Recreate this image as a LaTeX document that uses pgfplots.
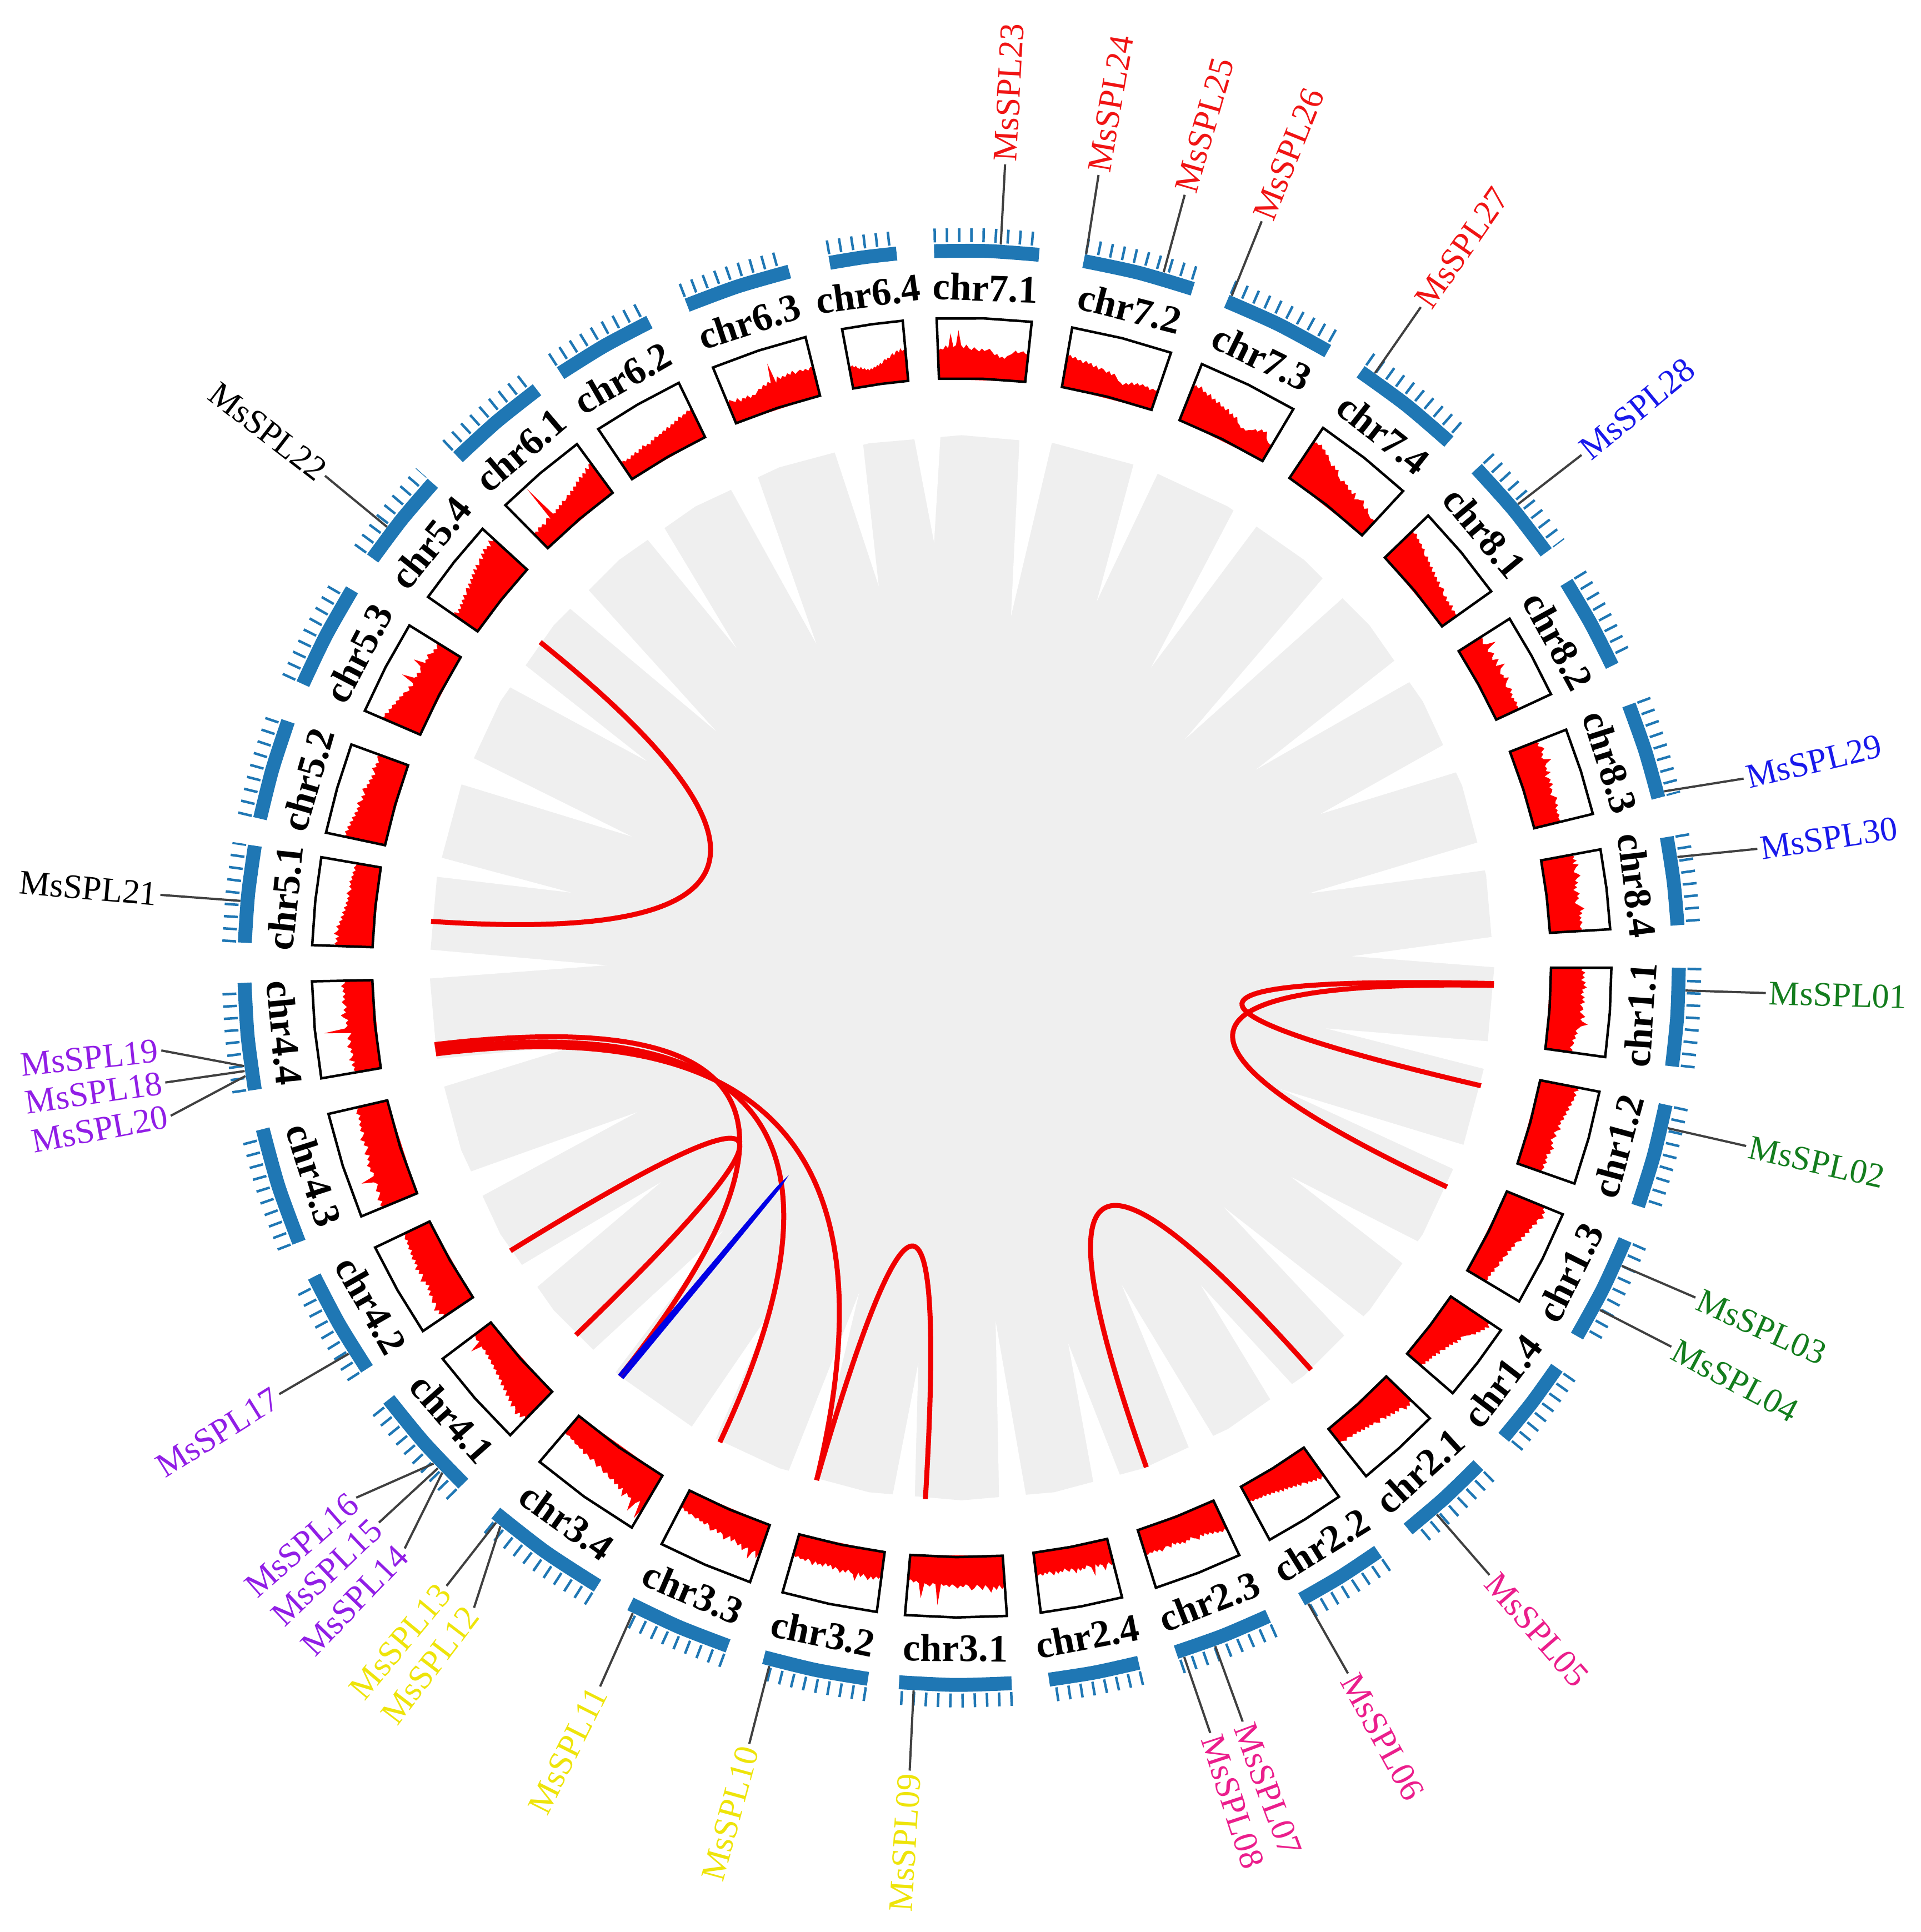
\documentclass[border=0pt]{standalone}
\usepackage{fontspec}
\setmainfont{Liberation Serif}
\usepackage{pgfplots}
\pgfplotsset{compat=1.18}
\usepgfplotslibrary{polar}
\usetikzlibrary{calc}

\definecolor{ideo}{RGB}{31,119,180}
\definecolor{hred}{RGB}{255,0,0}
\definecolor{lnk}{RGB}{240,0,0}
\definecolor{lgray}{RGB}{239,239,239}
\definecolor{gGreen}{RGB}{20,125,30}
\definecolor{gPink}{RGB}{235,30,140}
\definecolor{gYellow}{RGB}{238,228,10}
\definecolor{gPurple}{RGB}{145,30,230}
\definecolor{gRed}{RGB}{240,20,20}
\definecolor{gBlue}{RGB}{25,25,235}

\newcommand{\chrfont}{\bfseries\fontsize{7}{8}\selectfont}
\newcommand{\genefont}{\fontsize{6.2}{7}\selectfont}

% one chromosome: start angle, mid angle, end angle, name, label rotation, 36 density values (0..1 of the box)
\newcommand{\chrom}[6]{%
  \addplot[draw=none, fill=hred] table[row sep=\\, header=false,
    x expr={#1-(#1-#3)*max(0,min(1,(\coordindex-1)/35))},
    y expr={0.83+0.085*\thisrowno{0}}] {0\\#6\\0\\};
  \addplot[black, line width=0.45pt] coordinates {(#1,0.83) (#1,0.915) (#2,0.915) (#3,0.915) (#3,0.83) (#2,0.83) (#1,0.83) (#1,0.915)};
  \addplot[ideo, line width=2.5pt, smooth] coordinates {(#1,1.01) (#2,1.01) (#3,1.01)};
  \addplot[ideo, line width=2.5pt, smooth, dash pattern=on 0.45pt off 1.75pt] coordinates {(#1,1.032) (#2,1.032) (#3,1.032)};
  \node[font=\chrfont, rotate=#5, inner sep=0pt] at (axis cs:#2,0.958) {#4};
}
% white gap between two ribbon bands
\newcommand{\gapw}[4]{%
  \addplot[draw=none, fill=white] coordinates {(#1,0.76) (#2,0.76) (#3,#4)};
}
% link between two gene positions (quadratic bezier bent towards the centre)
\newcommand{\slink}[4]{%
  \draw[#4] (axis cs:#1,0.75) .. controls ($(axis cs:#1,0.75)!0.667!(axis cs:#3,0.05)$)
    and ($(axis cs:#2,0.75)!0.667!(axis cs:#3,0.05)$) .. (axis cs:#2,0.75);
}
% gene labels: gene angle, label angle, name, colour
\newcommand{\gR}[4]{%
  \addplot[black!75, line width=0.4pt] coordinates {(#1,1.02) (#2,1.133)};
  \node[anchor=west, rotate=#2, text=#4, font=\genefont, inner sep=0.4pt] at (axis cs:#2,1.133) {#3};
}
\newcommand{\gL}[4]{%
  \addplot[black!75, line width=0.4pt] coordinates {(#1,1.02) (#2,1.133)};
  \node[anchor=east, rotate={#2-180}, text=#4, font=\genefont, inner sep=0.4pt] at (axis cs:#2,1.133) {#3};
}

\begin{document}
\begin{tikzpicture}
\begin{polaraxis}[
    hide axis, clip=false,
    xmin=0, xmax=360, ymin=0, ymax=1.5,
    width=383.4pt, height=383.4pt, scale only axis
]
% grey ribbons
\addplot[draw=none, fill=lgray] coordinates {
  (0,0.75) (10,0.75) (20,0.75) (30,0.75) (40,0.75) (50,0.75) (60,0.75) (70,0.75) (80,0.75)
  (90,0.75) (100,0.75) (110,0.75) (120,0.75) (130,0.75) (140,0.75) (150,0.75) (160,0.75) (170,0.75)
  (180,0.75) (190,0.75) (200,0.75) (210,0.75) (220,0.75) (230,0.75) (240,0.75) (250,0.75) (260,0.75)
  (270,0.75) (280,0.75) (290,0.75) (300,0.75) (310,0.75) (320,0.75) (330,0.75) (340,0.75) (350,0.75)};
\gapw{349}{352.1}{350.55}{0.52}
\gapw{337.7}{340.6}{339.15}{0.48}
\gapw{326.1}{329.1}{327.6}{0.55}
\gapw{316.1}{319.1}{317.6}{0.5}
\gapw{305.5}{308.5}{307}{0.56}
\gapw{295.3}{298.3}{296.8}{0.5}
\gapw{284.3}{287.4}{285.85}{0.55}
\gapw{274}{277}{275.5}{0.5}
\gapw{262.5}{265}{263.75}{0.56}
\gapw{251}{254}{252.5}{0.48}
\gapw{239.5}{242.5}{241}{0.55}
\gapw{226}{229.5}{227.75}{0.5}
\gapw{214}{217}{215.5}{0.52}
\gapw{202.5}{205.5}{204}{0.5}
\gapw{189.8}{193}{191.4}{0.55}
\gapw{178}{181.2}{179.6}{0.5}
\gapw{168}{170.2}{169.1}{0.56}
\gapw{156.7}{159.9}{158.3}{0.5}
\gapw{145.2}{148.2}{146.7}{0.53}
\gapw{134.6}{137.5}{136.05}{0.48}
\gapw{124}{126.3}{125.15}{0.55}
\gapw{112.5}{115.8}{114.15}{0.5}
\gapw{100.6}{103.9}{102.25}{0.55}
\gapw{92.2}{95.2}{93.7}{0.6}
\gapw{80.2}{83.8}{82}{0.5}
\gapw{68.3}{71.2}{69.75}{0.55}
\gapw{56.2}{59.3}{57.75}{0.5}
\gapw{44.1}{47.2}{45.65}{0.45}
\gapw{32.5}{35.4}{33.95}{0.5}
\gapw{21.5}{24.9}{23.2}{0.55}
\gapw{10.5}{13.7}{12.1}{0.5}
\gapw{0}{3.4}{1.7}{0.55}

% collinear gene pairs
\slink{142.3}{175}{158.65}{lnk, line width=0.9pt}
\slink{212.1}{223.6}{217.85}{lnk, line width=0.9pt}
\slink{188.3}{230.1}{209.2}{lnk, line width=0.9pt}
\slink{188.8}{243}{215.9}{lnk, line width=0.9pt}
\slink{189.3}{254.2}{221.75}{lnk, line width=0.9pt}
\slink{254.2}{266.1}{260.15}{lnk, line width=0.9pt}
\slink{290.3}{311}{300.65}{lnk, line width=0.9pt}
\slink{358.3}{347.2}{352.75}{lnk, line width=0.9pt}
\slink{358.1}{335.7}{346.9}{lnk, line width=0.9pt}
\slink{230}{230.4}{230.2}{blue!90!black, line width=0.6pt}

% chromosomes
\chrom{360}{356.05}{352.1}{chr1.1}{86.05}{0.55\\0.5\\0.57\\0.52\\0.56\\0.5\\0.58\\0.54\\0.6\\0.52\\0.55\\0.5\\0.57\\0.53\\0.58\\0.5\\0.54\\0.56\\0.5\\0.55\\0.6\\0.52\\0.56\\0.65\\0.54\\0.5\\0.46\\0.5\\0.45\\0.48\\0.42\\0.46\\0.44\\0.4\\0.45\\0.42}
\chrom{349}{344.8}{340.6}{chr1.2}{74.8}{0.6\\0.66\\0.58\\0.64\\0.6\\0.62\\0.57\\0.6\\0.54\\0.58\\0.52\\0.55\\0.5\\0.53\\0.47\\0.5\\0.45\\0.52\\0.46\\0.42\\0.48\\0.44\\0.4\\0.46\\0.43\\0.5\\0.44\\0.47\\0.4\\0.44\\0.41\\0.46\\0.4\\0.44\\0.42\\0.4}
\chrom{337.7}{333.4}{329.1}{chr1.3}{63.4}{0.7\\0.66\\0.72\\0.68\\0.74\\0.66\\0.64\\0.68\\0.6\\0.63\\0.58\\0.62\\0.55\\0.58\\0.52\\0.56\\0.5\\0.47\\0.5\\0.45\\0.48\\0.42\\0.46\\0.43\\0.4\\0.44\\0.38\\0.42\\0.4\\0.37\\0.4\\0.35\\0.38\\0.34\\0.37\\0.35}
\chrom{326.1}{322.6}{319.1}{chr1.4}{52.6}{0.8\\0.76\\0.82\\0.75\\0.78\\0.72\\0.74\\0.68\\0.7\\0.64\\0.62\\0.58\\0.55\\0.52\\0.56\\0.5\\0.54\\0.47\\0.5\\0.44\\0.47\\0.42\\0.45\\0.4\\0.38\\0.42\\0.36\\0.39\\0.34\\0.37\\0.33\\0.36\\0.31\\0.34\\0.3\\0.32}
\chrom{316.1}{312.3}{308.5}{chr2.1}{42.3}{0.6\\0.57\\0.62\\0.58\\0.63\\0.55\\0.52\\0.56\\0.5\\0.54\\0.48\\0.52\\0.46\\0.5\\0.44\\0.42\\0.48\\0.44\\0.4\\0.43\\0.38\\0.42\\0.36\\0.4\\0.35\\0.38\\0.33\\0.36\\0.31\\0.35\\0.32\\0.3\\0.34\\0.31\\0.29\\0.3}
\chrom{305.5}{301.9}{298.3}{chr2.2}{31.9}{0.6\\0.56\\0.6\\0.54\\0.58\\0.52\\0.55\\0.5\\0.53\\0.48\\0.46\\0.5\\0.44\\0.47\\0.42\\0.45\\0.4\\0.43\\0.38\\0.42\\0.36\\0.4\\0.34\\0.37\\0.33\\0.36\\0.31\\0.34\\0.3\\0.33\\0.3\\0.32\\0.29\\0.31\\0.28\\0.3}
\chrom{295.3}{291.35}{287.4}{chr2.3}{21.35}{0.55\\0.5\\0.54\\0.5\\0.52\\0.47\\0.5\\0.45\\0.48\\0.43\\0.47\\0.42\\0.5\\0.46\\0.44\\0.4\\0.45\\0.42\\0.47\\0.42\\0.45\\0.4\\0.43\\0.38\\0.45\\0.41\\0.4\\0.43\\0.46\\0.41\\0.44\\0.4\\0.43\\0.41\\0.44\\0.42}
\chrom{284.3}{280.65}{277}{chr2.4}{10.65}{0.4\\0.44\\0.38\\0.42\\0.5\\0.4\\0.38\\0.42\\0.36\\0.55\\0.4\\0.37\\0.35\\0.41\\0.38\\0.42\\0.36\\0.45\\0.38\\0.35\\0.4\\0.37\\0.33\\0.39\\0.36\\0.4\\0.35\\0.42\\0.37\\0.34\\0.38\\0.35\\0.4\\0.36\\0.38\\0.4}
\chrom{274}{269.5}{265}{chr3.1}{-0.5}{0.5\\0.55\\0.48\\0.56\\0.5\\0.6\\0.52\\0.47\\0.55\\0.5\\0.46\\0.52\\0.55\\0.48\\0.45\\0.5\\0.47\\0.52\\0.48\\0.45\\0.5\\0.46\\0.48\\0.45\\0.8\\0.46\\0.44\\0.5\\0.47\\0.45\\0.7\\0.46\\0.42\\0.45\\0.4\\0.44}
\chrom{262.5}{258.25}{254}{chr3.2}{-11.75}{0.4\\0.45\\0.42\\0.48\\0.43\\0.5\\0.45\\0.41\\0.47\\0.4\\0.55\\0.44\\0.42\\0.38\\0.44\\0.4\\0.46\\0.41\\0.38\\0.43\\0.36\\0.4\\0.35\\0.42\\0.38\\0.41\\0.36\\0.44\\0.38\\0.35\\0.4\\0.37\\0.39\\0.35\\0.38\\0.35}
\chrom{251}{246.75}{242.5}{chr3.3}{-23.25}{0.45\\0.6\\0.48\\0.52\\0.65\\0.47\\0.5\\0.55\\0.45\\0.5\\0.46\\0.42\\0.48\\0.4\\0.45\\0.5\\0.42\\0.4\\0.44\\0.38\\0.42\\0.45\\0.38\\0.35\\0.4\\0.36\\0.38\\0.34\\0.37\\0.35\\0.33\\0.36\\0.32\\0.34\\0.3\\0.32}
\chrom{239.5}{234.5}{229.5}{chr3.4}{-35.5}{0.6\\0.85\\0.55\\0.62\\0.8\\0.58\\0.6\\0.55\\0.65\\0.52\\0.58\\0.5\\0.55\\0.48\\0.52\\0.5\\0.45\\0.5\\0.46\\0.42\\0.48\\0.44\\0.4\\0.45\\0.42\\0.4\\0.44\\0.38\\0.41\\0.38\\0.4\\0.36\\0.38\\0.35\\0.37\\0.35}
\chrom{226}{221.5}{217}{chr4.1}{-48.5}{0.65\\0.6\\0.68\\0.62\\0.7\\0.64\\0.6\\0.66\\0.58\\0.62\\0.55\\0.6\\0.52\\0.56\\0.5\\0.54\\0.46\\0.5\\0.44\\0.48\\0.42\\0.45\\0.4\\0.43\\0.38\\0.41\\0.36\\0.4\\0.35\\0.38\\0.36\\0.55\\0.34\\0.37\\0.35\\0.33}
\chrom{214}{209.75}{205.5}{chr4.2}{-60.25}{0.6\\0.55\\0.63\\0.58\\0.66\\0.6\\0.56\\0.62\\0.58\\0.55\\0.6\\0.53\\0.57\\0.5\\0.55\\0.52\\0.6\\0.54\\0.5\\0.56\\0.52\\0.58\\0.5\\0.54\\0.49\\0.55\\0.5\\0.53\\0.47\\0.52\\0.48\\0.5\\0.46\\0.5\\0.47\\0.45}
\chrom{202.5}{197.75}{193}{chr4.3}{-72.25}{0.6\\0.64\\0.58\\0.65\\0.6\\0.56\\0.62\\0.58\\0.55\\0.6\\0.8\\0.57\\0.55\\0.6\\0.57\\0.62\\0.55\\0.58\\0.52\\0.6\\0.55\\0.5\\0.57\\0.53\\0.6\\0.54\\0.5\\0.56\\0.52\\0.55\\0.5\\0.54\\0.49\\0.55\\0.52\\0.5}
\chrom{189.8}{185.5}{181.2}{chr4.4}{-84.5}{0.4\\0.45\\0.42\\0.47\\0.4\\0.5\\0.44\\0.41\\0.46\\0.42\\0.5\\0.45\\0.42\\0.48\\0.44\\0.4\\0.85\\0.5\\0.45\\0.48\\0.43\\0.5\\0.55\\0.46\\0.5\\0.44\\0.48\\0.52\\0.46\\0.5\\0.45\\0.5\\0.47\\0.52\\0.46\\0.45}
\chrom{178}{174.1}{170.2}{chr5.1}{84.1}{0.6\\0.63\\0.58\\0.62\\0.56\\0.65\\0.6\\0.57\\0.62\\0.55\\0.58\\0.52\\0.56\\0.5\\0.54\\0.48\\0.52\\0.46\\0.5\\0.45\\0.48\\0.44\\0.5\\0.46\\0.42\\0.47\\0.44\\0.48\\0.43\\0.46\\0.42\\0.45\\0.4\\0.44\\0.41\\0.4}
\chrom{168}{163.95}{159.9}{chr5.2}{73.95}{0.7\\0.66\\0.7\\0.64\\0.68\\0.62\\0.66\\0.6\\0.64\\0.58\\0.62\\0.56\\0.6\\0.55\\0.62\\0.57\\0.53\\0.58\\0.52\\0.56\\0.6\\0.52\\0.55\\0.5\\0.54\\0.48\\0.52\\0.46\\0.5\\0.55\\0.48\\0.52\\0.47\\0.5\\0.53\\0.5}
\chrom{156.7}{152.45}{148.2}{chr5.3}{62.45}{0.7\\0.66\\0.68\\0.62\\0.65\\0.6\\0.63\\0.57\\0.6\\0.55\\0.58\\0.52\\0.55\\0.5\\0.47\\0.52\\0.45\\0.48\\0.7\\0.5\\0.46\\0.5\\0.44\\0.48\\0.5\\0.65\\0.45\\0.48\\0.44\\0.5\\0.46\\0.42\\0.45\\0.4\\0.44\\0.45}
\chrom{145.2}{141.35}{137.5}{chr5.4}{51.35}{0.45\\0.5\\0.42\\0.48\\0.44\\0.5\\0.46\\0.52\\0.48\\0.55\\0.5\\0.54\\0.58\\0.52\\0.6\\0.55\\0.62\\0.58\\0.65\\0.6\\0.68\\0.62\\0.7\\0.64\\0.68\\0.72\\0.66\\0.75\\0.7\\0.78\\0.72\\0.76\\0.7\\0.8\\0.74\\0.75}
\chrom{134.6}{130.45}{126.3}{chr6.1}{40.45}{0.3\\0.34\\0.3\\0.36\\0.32\\0.35\\0.3\\0.34\\0.38\\0.32\\0.95\\0.36\\0.33\\0.38\\0.35\\0.4\\0.36\\0.42\\0.38\\0.4\\0.44\\0.4\\0.46\\0.42\\0.48\\0.45\\0.52\\0.48\\0.55\\0.5\\0.56\\0.52\\0.6\\0.55\\0.62\\0.6}
\chrom{124}{119.9}{115.8}{chr6.2}{29.9}{0.3\\0.34\\0.3\\0.33\\0.29\\0.34\\0.31\\0.35\\0.3\\0.36\\0.32\\0.38\\0.33\\0.36\\0.32\\0.38\\0.35\\0.4\\0.36\\0.4\\0.38\\0.42\\0.39\\0.44\\0.4\\0.45\\0.42\\0.47\\0.44\\0.5\\0.46\\0.5\\0.48\\0.53\\0.5\\0.55}
\chrom{112.5}{108.2}{103.9}{chr6.3}{18.2}{0.35\\0.4\\0.36\\0.33\\0.38\\0.3\\0.35\\0.32\\0.36\\0.3\\0.34\\0.32\\0.36\\0.4\\0.38\\0.44\\0.4\\0.46\\0.42\\0.75\\0.4\\0.5\\0.44\\0.48\\0.45\\0.5\\0.46\\0.52\\0.45\\0.48\\0.5\\0.46\\0.49\\0.45\\0.5\\0.48}
\chrom{100.6}{97.9}{95.2}{chr6.4}{7.9}{0.4\\0.36\\0.38\\0.34\\0.36\\0.32\\0.3\\0.33\\0.28\\0.3\\0.26\\0.28\\0.25\\0.28\\0.26\\0.3\\0.28\\0.32\\0.3\\0.35\\0.32\\0.37\\0.4\\0.38\\0.42\\0.4\\0.45\\0.48\\0.44\\0.5\\0.52\\0.48\\0.55\\0.5\\0.52\\0.5}
\chrom{92.2}{88}{83.8}{chr7.1}{-2}{0.45\\0.5\\0.48\\0.55\\0.5\\0.75\\0.52\\0.55\\0.8\\0.55\\0.5\\0.56\\0.5\\0.47\\0.52\\0.48\\0.45\\0.5\\0.46\\0.48\\0.5\\0.45\\0.4\\0.42\\0.36\\0.38\\0.35\\0.4\\0.42\\0.45\\0.5\\0.46\\0.48\\0.5\\0.46\\0.45}
\chrom{80.2}{75.7}{71.2}{chr7.2}{-14.3}{0.5\\0.55\\0.5\\0.53\\0.48\\0.5\\0.45\\0.5\\0.46\\0.48\\0.42\\0.46\\0.4\\0.44\\0.42\\0.38\\0.42\\0.36\\0.4\\0.35\\0.3\\0.28\\0.25\\0.3\\0.28\\0.34\\0.3\\0.35\\0.32\\0.36\\0.33\\0.35\\0.3\\0.34\\0.32\\0.35}
\chrom{68.3}{63.8}{59.3}{chr7.3}{-26.2}{0.6\\0.64\\0.6\\0.66\\0.58\\0.6\\0.55\\0.6\\0.52\\0.56\\0.5\\0.54\\0.48\\0.5\\0.45\\0.5\\0.42\\0.46\\0.4\\0.44\\0.36\\0.34\\0.3\\0.32\\0.3\\0.34\\0.36\\0.4\\0.38\\0.45\\0.42\\0.46\\0.36\\0.32\\0.3\\0.3}
\chrom{56.2}{51.7}{47.2}{chr7.4}{-38.3}{0.7\\0.74\\0.72\\0.76\\0.7\\0.72\\0.66\\0.68\\0.62\\0.6\\0.56\\0.6\\0.55\\0.58\\0.5\\0.48\\0.45\\0.5\\0.46\\0.48\\0.42\\0.45\\0.4\\0.46\\0.36\\0.4\\0.42\\0.45\\0.38\\0.35\\0.4\\0.34\\0.32\\0.3\\0.32\\0.3}
\chrom{44.1}{39.75}{35.4}{chr8.1}{-50.25}{0.65\\0.62\\0.66\\0.6\\0.62\\0.58\\0.6\\0.55\\0.58\\0.52\\0.5\\0.54\\0.48\\0.5\\0.45\\0.48\\0.42\\0.46\\0.4\\0.43\\0.38\\0.42\\0.35\\0.38\\0.4\\0.34\\0.32\\0.36\\0.3\\0.34\\0.3\\0.35\\0.28\\0.32\\0.3\\0.3}
\chrom{32.5}{28.7}{24.9}{chr8.2}{-61.3}{0.4\\0.45\\0.42\\0.4\\0.46\\0.6\\0.44\\0.4\\0.45\\0.48\\0.42\\0.4\\0.5\\0.44\\0.4\\0.55\\0.45\\0.42\\0.4\\0.44\\0.42\\0.5\\0.44\\0.4\\0.38\\0.42\\0.46\\0.4\\0.43\\0.38\\0.42\\0.4\\0.44\\0.4\\0.42\\0.4}
\chrom{21.5}{17.6}{13.7}{chr8.3}{-72.4}{0.45\\0.5\\0.46\\0.52\\0.55\\0.48\\0.5\\0.45\\0.48\\0.6\\0.5\\0.46\\0.48\\0.45\\0.52\\0.4\\0.45\\0.48\\0.44\\0.5\\0.42\\0.46\\0.44\\0.4\\0.45\\0.5\\0.46\\0.44\\0.48\\0.42\\0.45\\0.42\\0.46\\0.43\\0.44\\0.45}
\chrom{10.5}{6.95}{3.4}{chr8.4}{-83.05}{0.5\\0.55\\0.52\\0.58\\0.5\\0.6\\0.55\\0.52\\0.5\\0.56\\0.6\\0.54\\0.5\\0.55\\0.48\\0.52\\0.45\\0.5\\0.55\\0.5\\0.53\\0.48\\0.45\\0.5\\0.55\\0.6\\0.52\\0.56\\0.5\\0.54\\0.5\\0.55\\0.52\\0.5\\0.53\\0.52}

% SPL genes
\gR{358.2}{358.2}{MsSPL01}{gGreen}
\gR{347.2}{347.2}{MsSPL02}{gGreen}
\gR{335.7}{335.8}{MsSPL03}{gGreen}
\gR{331.8}{331.9}{MsSPL04}{gGreen}
\gR{311}{311}{MsSPL05}{gPink}
\gR{298.6}{298.7}{MsSPL06}{gPink}
\gR{290.5}{290.45}{MsSPL07}{gPink}
\gR{287.9}{288}{MsSPL08}{gPink}
\gL{266.2}{266.3}{MsSPL09}{gYellow}
\gL{254.6}{254.7}{MsSPL10}{gYellow}
\gL{243}{243.3}{MsSPL11}{gYellow}
\gL{230.45}{232.7}{MsSPL12}{gYellow}
\gL{230}{230.2}{MsSPL13}{gYellow}
\gL{224.2}{226.2}{MsSPL14}{gPurple}
\gL{223.7}{223.6}{MsSPL15}{gPurple}
\gL{223.2}{221.2}{MsSPL16}{gPurple}
\gL{212.2}{212}{MsSPL17}{gPurple}
\gL{188.2}{188.2}{MsSPL18}{gPurple}
\gL{187.8}{185.9}{MsSPL19}{gPurple}
\gL{188.6}{190.6}{MsSPL20}{gPurple}
\gL{174.7}{174.8}{MsSPL21}{black}
\gL{142.5}{142.3}{MsSPL22}{black}
\gR{86.9}{86.9}{MsSPL23}{gRed}
\gR{80.1}{80.2}{MsSPL24}{gRed}
\gR{73.8}{73.9}{MsSPL25}{gRed}
\gR{68.1}{68.1}{MsSPL26}{gRed}
\gR{55.2}{55.2}{MsSPL27}{gRed}
\gR{39.8}{39.6}{MsSPL28}{gBlue}
\gR{14.1}{13.6}{MsSPL29}{gBlue}
\gR{8.8}{8.5}{MsSPL30}{gBlue}

\coordinate (BL) at (axis cs:225.08,1.9177);
\coordinate (TR) at (axis cs:45.26,1.9188);
\end{polaraxis}
\pgfresetboundingbox
\path (BL) rectangle (TR);
\end{tikzpicture}
\end{document}
